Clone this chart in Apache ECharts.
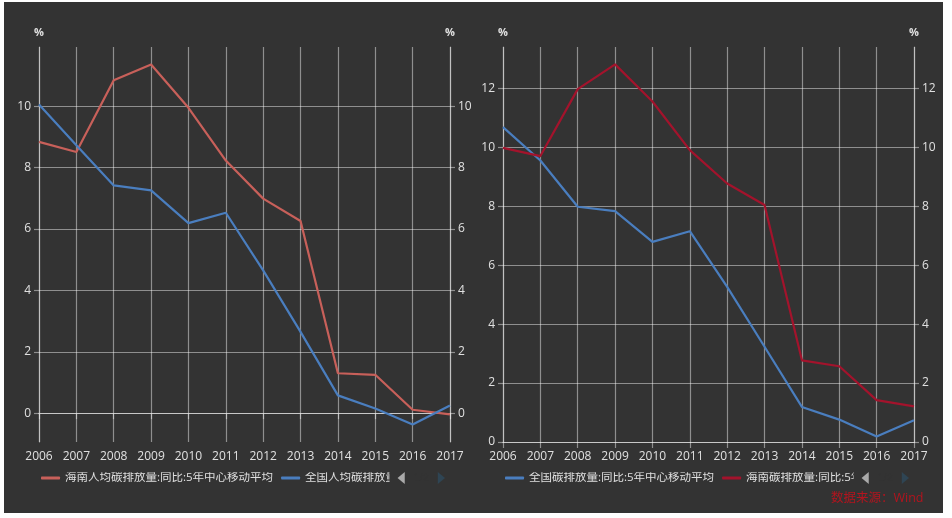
<!DOCTYPE html>
<html>
<head>
<meta charset="utf-8">
<script src="https://cdn.jsdelivr.net/npm/echarts@6/dist/echarts.min.js"></script>
<style>
html,body{margin:0;padding:0;background:#ffffff;width:952px;height:518px;overflow:hidden;}
#bg{position:absolute;left:4px;top:2px;width:939px;height:511px;background:#333333;}
#chart{position:absolute;left:0;top:0;width:952px;height:518px;}
</style>
</head>
<body>
<div id="bg"></div>
<div id="chart"></div>
<script>
// ---- data ----
const years = ['2006','2007','2008','2009','2010','2011','2012','2013','2014','2015','2016','2017'];
const leftNames = ['海南人均碳排放量:同比:5年中心移动平均', '全国人均碳排放量:同比:5年中心移动平均'];
const hnPerCapita = [8.84, 8.51, 10.85, 11.36, 9.95, 8.23, 6.99, 6.26, 1.30, 1.25, 0.11, -0.04];
const cnPerCapita = [10.06, 8.73, 7.42, 7.26, 6.19, 6.53, 4.65, 2.65, 0.58, 0.15, -0.37, 0.25];
const rightNames = ['全国碳排放量:同比:5年中心移动平均', '海南碳排放量:同比:5年中心移动平均'];
const cnTotal = [10.68, 9.55, 7.98, 7.83, 6.79, 7.15, 5.26, 3.23, 1.19, 0.76, 0.19, 0.74];
const hnTotal = [9.98, 9.70, 11.97, 12.81, 11.55, 9.90, 8.77, 8.04, 2.77, 2.57, 1.42, 1.21];
const leftRange = [-0.94, 11.93];
const rightRange = [0, 13.4];
const unitName = '%';
const sourceText = '数据来源：Wind';

// ---- style ----
const FONT = '"Open Sans", "Noto Sans CJK SC", sans-serif';
const gridColor = 'rgba(255,255,255,0.45)';
const labelColor = '#e0e0e0';
const blue = '#4a7ebf';
const redL = '#c8605a';
const redR = '#a3132c';

function xAxis(gi) {
  return {
    type: 'category', gridIndex: gi, data: years, boundaryGap: false,
    axisLine: { show: true, lineStyle: { color: '#c8c8c8', width: 1.2 } },
    axisTick: { show: true, length: 6, lineStyle: { color: gridColor, width: 1.2 } },
    axisLabel: { color: labelColor, fontSize: 12, fontFamily: FONT, margin: 9, interval: 0 },
    splitLine: { show: true, lineStyle: { color: gridColor, width: 1.2 } }
  };
}
function yAxis(gi, range, pos, split, showMin) {
  return {
    type: 'value', gridIndex: gi, position: pos,
    min: range[0], max: range[1], splitNumber: 6,
    name: unitName, nameLocation: 'end', nameGap: 9,
    nameTextStyle: { color: labelColor, fontSize: 11, fontWeight: 'bold', fontFamily: FONT, align: 'center' },
    axisLine: { show: true, lineStyle: { color: gridColor, width: 1.2 } },
    axisTick: { show: true, length: 5, lineStyle: { color: gridColor, width: 1.2 } },
    axisLabel: { color: labelColor, fontSize: 12, fontFamily: FONT, margin: 8, showMinLabel: showMin, showMaxLabel: false },
    splitLine: { show: split, showMinLine: false, showMaxLine: false, lineStyle: { color: gridColor, width: 1.2 } }
  };
}
function legend(left, names) {
  return {
    type: 'scroll', orient: 'horizontal', left: left, top: 467, width: 404,
    itemWidth: 19, itemHeight: 3, itemGap: 8, icon: 'roundRect',
    textStyle: { color: labelColor, fontSize: 11.5, fontFamily: FONT },
    pageIconColor: '#2f4554', pageIconInactiveColor: '#aaa', pageIconSize: 12,
    pageButtonItemGap: 4,
    pageTextStyle: { color: '#333333', fontSize: 11 },
    data: names
  };
}
function line(name, xi, yi, data, color) {
  return {
    type: 'line', name: name, xAxisIndex: xi, yAxisIndex: yi, data: data,
    showSymbol: false, symbol: 'none', smooth: false,
    lineStyle: { color: color, width: 2.2 }, itemStyle: { color: color }
  };
}

const chart = echarts.init(document.getElementById('chart'), null, { renderer: 'canvas' });
chart.setOption({
  animation: false,
  backgroundColor: 'transparent',
  grid: [
    { left: 39, top: 47, width: 411, height: 395, containLabel: false },
    { left: 503, top: 47, width: 411, height: 395, containLabel: false }
  ],
  xAxis: [xAxis(0), xAxis(1)],
  yAxis: [
    yAxis(0, leftRange, 'left', true, false), yAxis(0, leftRange, 'right', false, false),
    yAxis(1, rightRange, 'left', true, true), yAxis(1, rightRange, 'right', false, true)
  ],
  legend: [legend(36, leftNames), legend(500, rightNames)],
  series: [
    line(leftNames[0], 0, 0, hnPerCapita, redL),
    line(leftNames[1], 0, 0, cnPerCapita, blue),
    line(rightNames[0], 1, 2, cnTotal, blue),
    line(rightNames[1], 1, 2, hnTotal, redR)
  ],
  graphic: [{
    type: 'text', left: 831, top: 492,
    style: { text: sourceText, fill: '#b3141e', font: '12.5px ' + FONT }
  }]
});
</script>
</body>
</html>
